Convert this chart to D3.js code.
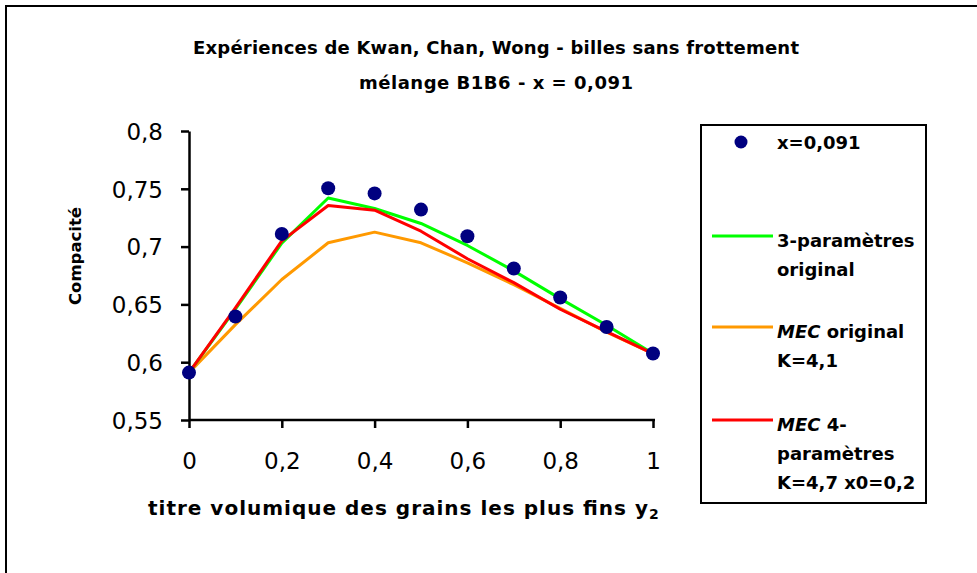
<!DOCTYPE html>
<html>
<head>
<meta charset="utf-8">
<script src="https://cdn.jsdelivr.net/npm/d3@7/dist/d3.min.js"></script>
<style>
  html, body { margin: 0; padding: 0; background: #fff; }
  svg { display: block; }
  .bold { font-family: "Comic Sans MS", "DejaVu Sans", sans-serif; font-weight: bold; fill: #000; }
  .tick text { font-family: "DejaVu Sans", sans-serif; font-size: 23px; fill: #000; }
</style>
</head>
<body>
<svg id="chart" width="977" height="573"></svg>
<script>
// ---- data ----
const titleLines = ["Expériences de Kwan, Chan, Wong - billes sans frottement", "mélange B1B6 - x = 0,091"];
const xValues = [0, 0.1, 0.2, 0.3, 0.4, 0.5, 0.6, 0.7, 0.8, 0.9, 1.0];
const measured = [0.591, 0.6395, 0.711, 0.7505, 0.746, 0.732, 0.709, 0.681, 0.656, 0.6305, 0.6075];
const threeParam = [0.591, 0.646, 0.703, 0.742, 0.733, 0.720, 0.701, 0.679, 0.655, 0.632, 0.6075];
const mecOriginal = [0.591, 0.6325, 0.6715, 0.7033, 0.7125, 0.7033, 0.686, 0.667, 0.6465, 0.626, 0.6075];
const mec4Param = [0.591, 0.647, 0.705, 0.7356, 0.7315, 0.7133, 0.6895, 0.6688, 0.6458, 0.6265, 0.6075];
const xTicks = [0, 0.2, 0.4, 0.6, 0.8, 1];
const yTicks = [0.55, 0.6, 0.65, 0.7, 0.75, 0.8];
const legendLabels = [
  { key: "dot", lines: ["x=0,091"] },
  { key: "three", lines: ["3-paramètres", "original"] },
  { key: "mec", lines: ["|MEC| original", "K=4,1"] },
  { key: "mec4", lines: ["|MEC| 4-", "paramètres", "K=4,7 x0=0,2"] }
];
const colors = { dot: "#000080", three: "#00ff00", mec: "#ff9900", mec4: "#ff0000" };

// ---- drawing ----
const svg = d3.select("#chart");
const fmt = v => String(+v.toFixed(2)).replace(".", ",");

// outer frame (top and left edges visible)
svg.append("path").attr("d", "M6,573 L6,6 L977,6").attr("fill", "none").attr("stroke", "#000").attr("stroke-width", 2);

// title
const titleWidths = [606, 274];
svg.selectAll("text.title").data(titleLines).enter().append("text")
  .attr("class", "bold title").attr("x", 496).attr("y", (d, i) => 54 + i * 35)
  .attr("text-anchor", "middle").style("font-size", "18px")
  .attr("textLength", (d, i) => titleWidths[i]).attr("lengthAdjust", "spacing")
  .text(d => d);

const x = d3.scaleLinear().domain([0, 1]).range([189, 653]);
const y = d3.scaleLinear().domain([0.55, 0.8]).range([420, 131]);

const xAxis = svg.append("g").attr("transform", "translate(0,420)")
  .call(d3.axisBottom(x).tickValues(xTicks).tickFormat(fmt).tickSize(8).tickPadding(25).tickSizeOuter(0));
const yAxis = svg.append("g").attr("transform", "translate(189,0)")
  .call(d3.axisLeft(y).tickValues(yTicks).tickFormat(fmt).tickSize(8).tickPadding(18).tickSizeOuter(0));
[xAxis, yAxis].forEach(g => {
  g.select(".domain").attr("stroke", "#000").attr("stroke-width", 2.5);
  g.selectAll(".tick line").attr("stroke", "#000").attr("stroke-width", 2.5);
});
xAxis.select(".domain").attr("d", "M189,0H655");
yAxis.selectAll(".tick text").attr("dy", "0.36em");

// axis titles
const xt = svg.append("text").attr("class", "bold").attr("x", 148).attr("y", 515)
  .style("font-size", "20px");
xt.append("tspan").attr("textLength", 500).attr("lengthAdjust", "spacing")
  .text("titre volumique des grains les plus fins y");
xt.append("tspan").attr("dy", 4).style("font-size", "14px").text("2");

svg.append("text").attr("class", "bold")
  .attr("transform", "translate(81,256) rotate(-90)")
  .attr("text-anchor", "middle").style("font-size", "16.5px")
  .text("Compacité");

// lines
const line = d3.line().x((d, i) => x(xValues[i])).y(d => y(d));
[["mec", mecOriginal], ["three", threeParam], ["mec4", mec4Param]].forEach(([k, vals]) => {
  svg.append("path").datum(vals).attr("d", line).attr("fill", "none")
    .attr("stroke", colors[k]).attr("stroke-width", 3).attr("stroke-linejoin", "round");
});

// points
svg.selectAll("circle.pt").data(measured).enter().append("circle")
  .attr("class", "pt").attr("cx", (d, i) => x(xValues[i])).attr("cy", d => y(d))
  .attr("r", 7).attr("fill", colors.dot);

// legend
const lg = svg.append("g");
lg.append("rect").attr("x", 701).attr("y", 125).attr("width", 225).attr("height", 378)
  .attr("fill", "#fff").attr("stroke", "#000").attr("stroke-width", 2);
const legendY = [142, 240, 331, 424];
legendLabels.forEach((item, i) => {
  const cy = legendY[i];
  if (item.key === "dot") {
    lg.append("circle").attr("cx", 741).attr("cy", cy).attr("r", 6.5).attr("fill", colors.dot);
  } else {
    lg.append("line").attr("x1", 712).attr("x2", 773).attr("y1", cy - 4).attr("y2", cy - 4)
      .attr("stroke", colors[item.key]).attr("stroke-width", 3);
  }
  item.lines.forEach((ln, j) => {
    const t = lg.append("text").attr("class", "bold").attr("x", 777).attr("y", cy + 7 + j * 29)
      .style("font-size", "18px");
    ln.split("|").forEach((part, p) => {
      if (!part) return;
      const ts = t.append("tspan").text(part);
      if (p === 1) ts.style("font-style", "italic");
    });
  });
});
</script>
</body>
</html>
